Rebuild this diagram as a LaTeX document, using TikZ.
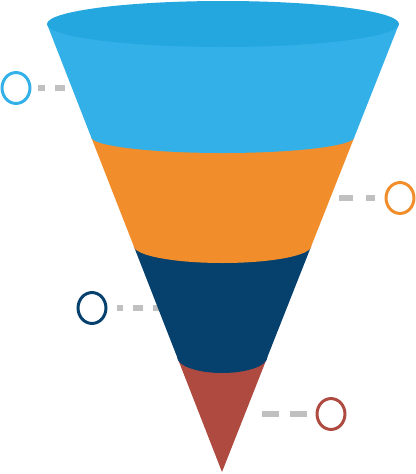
\documentclass[tikz,border=0pt]{standalone}
\usetikzlibrary{shapes.geometric}
\definecolor{topblue}{HTML}{24A7DE}
\definecolor{bandblue}{HTML}{33B0E8}
\definecolor{bandorange}{HTML}{F18D2B}
\definecolor{bandnavy}{HTML}{06416E}
\definecolor{bandred}{HTML}{AE4A40}
\definecolor{leadgray}{HTML}{C0C0C0}
\tikzset{
	ring/.style={draw, ellipse, line width=1.7pt, inner sep=0pt, minimum width=15.9pt, minimum height=17.6pt},
	lead/.style={leadgray, line width=3.4pt}
}
\begin{document}
\begin{tikzpicture}[x=0.02cm, y=-0.02cm]
		\useasboundingbox (0, 0) rectangle (416, 474);
		% markers and dashed leads
		\foreach \cx/\cy/\ex/\col/\on/\off/\ph/\gap [count=\i] in {16/88/65/bandblue/5.7/5.7/0/3.7, 400/198/339/bandorange/7.9/7.4/0/5.4, 92/308/160/bandnavy/5.7/5.7/1.7/5.4, 331/414/262/bandred/9.6/6.2/0/4.8}{
			\node[ring, draw=\col] (ring\i) at (\cx, \cy) {};
			\coordinate (edge\i) at (\ex, \cy);
			\draw[lead, dash pattern=on \on pt off \off pt, dash phase=\ph pt, shorten >=\gap pt] (edge\i) -- (ring\i);
		}
		% funnel, bottom band first
		\fill[bandred] (177.1, 357) -- (222, 472) -- (267.4, 357) -- cycle;
		\fill[bandnavy] (133.7, 246) -- (177.1, 357) arc[start angle=180, end angle=0, x radius=45.15, y radius=16] -- (311.3, 246) -- cycle;
		\fill[bandorange] (91.1, 137) -- (133.7, 246) arc[start angle=180, end angle=0, x radius=88.8, y radius=17] -- (354.4, 137) -- cycle;
		\fill[bandblue] (47, 24) -- (91.1, 137) arc[start angle=180, end angle=0, x radius=131.65, y radius=16] -- (399, 24) -- cycle;
		\fill[topblue] (223, 24) ellipse[x radius=176, y radius=23];
	\end{tikzpicture}
\end{document}
